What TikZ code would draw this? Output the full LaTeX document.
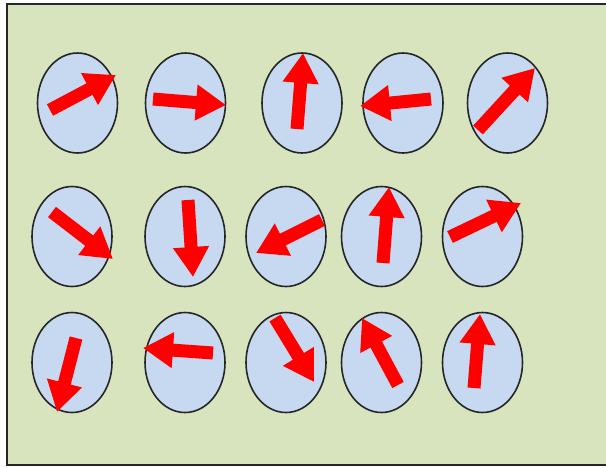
\documentclass[tikz,border=0pt]{standalone}
\usetikzlibrary{arrows.meta,shapes.geometric}
\definecolor{panelgreen}{HTML}{D7E4BD}
\definecolor{spinblue}{HTML}{C6D9F1}
\tikzset{
  spin/.style={ellipse, draw=black!85, line width=1.6pt, fill=spinblue,
    minimum width=80pt, minimum height=100pt, inner sep=0pt},
  moment/.style={draw=red, line width=13pt,
    -{Triangle[length=30pt,width=34pt,fill=red]}}
}
\begin{document}
\begin{tikzpicture}[x=1pt,y=-1pt]
  \useasboundingbox (0,0) rectangle (606,467);
  \begin{scope}
    \clip (0,0) rectangle (606,467);
    \draw[line width=2pt, draw=black!85, fill=panelgreen] (7,4) rectangle (612,465);
  \end{scope}
  % row 1
  \node[spin] (e1)  at (77.5,103) {};
  \node[spin] (e2)  at (185.5,103) {};
  \node[spin] (e3)  at (302,103) {};
  \node[spin] (e4)  at (403,103) {};
  \node[spin] (e5)  at (507.5,103) {};
  % row 2
  \node[spin] (e6)  at (72,236.5) {};
  \node[spin] (e7)  at (185,236.5) {};
  \node[spin] (e8)  at (286,236.5) {};
  \node[spin] (e9)  at (381.5,236.5) {};
  \node[spin] (e10) at (482.5,236.5) {};
  % row 3
  \node[spin] (e11) at (72,362.5) {};
  \node[spin] (e12) at (185,362.5) {};
  \node[spin] (e13) at (286,362.5) {};
  \node[spin] (e14) at (381.5,362.5) {};
  \node[spin] (e15) at (482.5,362.5) {};
  % magnetic moments
  \draw[moment] (50,110) -- (116,75);
  \draw[moment] (153,99) -- (226,105);
  \draw[moment] (297,129) -- (303,53);
  \draw[moment] (431,99) -- (360,106);
  \draw[moment] (478,130) -- (535,68);
  \draw[moment] (52,212) -- (113,259);
  \draw[moment] (188,200) -- (193,277);
  \draw[moment] (322,220) -- (256,253);
  \draw[moment] (383,263) -- (389,187);
  \draw[moment] (450,237) -- (521,203);
  \draw[moment] (76,338) -- (57,412);
  \draw[moment] (213,353) -- (143,348);
  \draw[moment] (275,318) -- (314,382);
  \draw[moment] (398,385) -- (362,318);
  \draw[moment] (474,388) -- (480,314);
\end{tikzpicture}
\end{document}
